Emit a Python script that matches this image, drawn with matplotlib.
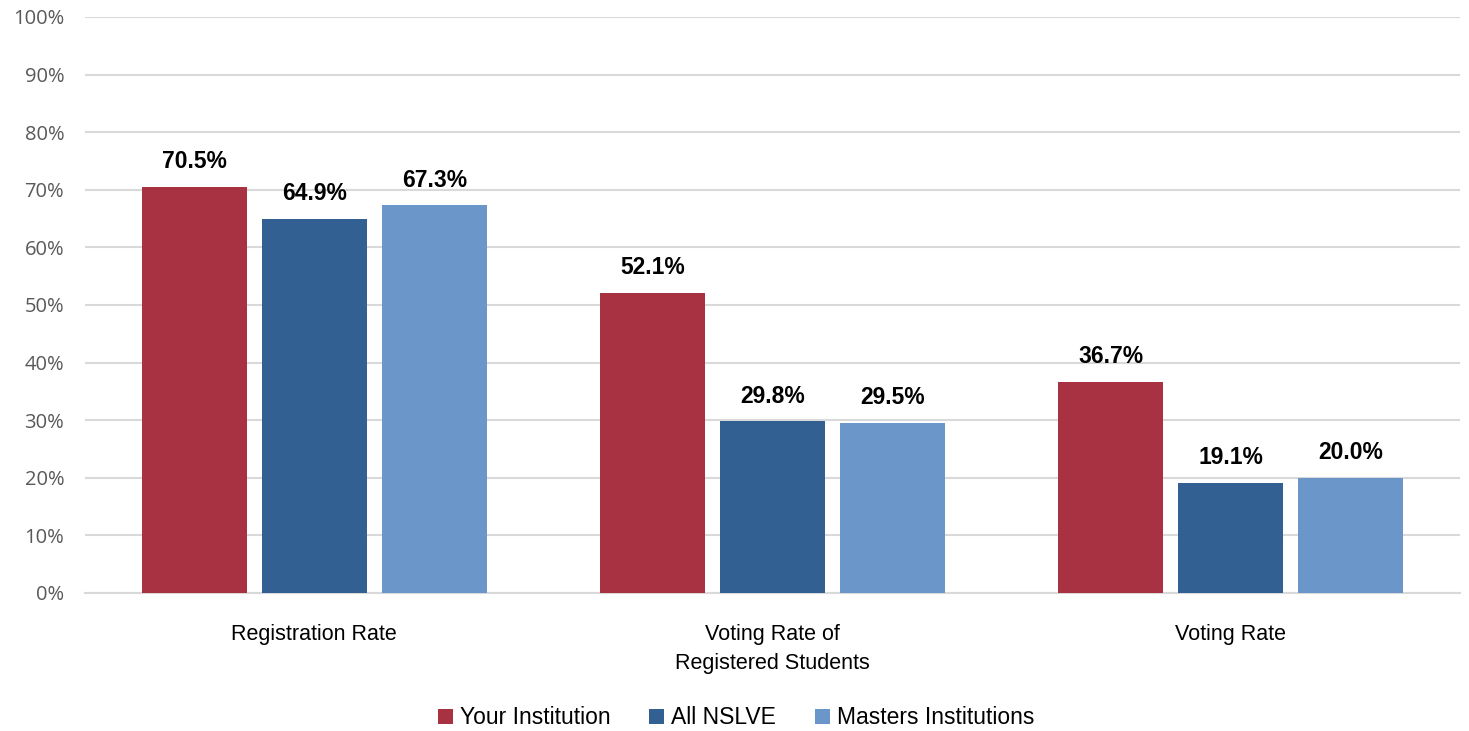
import matplotlib
matplotlib.use("Agg")
import matplotlib.pyplot as plt
import numpy as np
from matplotlib.patches import Patch

categories = ["Registration Rate", "Voting Rate of\nRegistered Students", "Voting Rate"]
series_names = ["Your Institution", "All NSLVE", "Masters Institutions"]
your_inst = [70.5, 52.1, 36.7]
all_nslve = [64.9, 29.8, 19.1]
masters = [67.3, 29.5, 20.0]
colors = ["#A83242", "#336092", "#6A96CA"]

narrow = ["Liberation Sans", "DejaVu Sans"]
tickfont = ["Open Sans", "DejaVu Sans"]

fig = plt.figure(figsize=(14.69, 7.31), dpi=100)
ax = fig.add_axes([85/1469, 138/731, 1375/1469, 576/731])

x = np.arange(len(categories))
width = 0.229
offset = 0.262
data = [your_inst, all_nslve, masters]
for i, (vals, c) in enumerate(zip(data, colors)):
    pos = x + (i - 1) * offset
    bars = ax.bar(pos, vals, width=width, color=c, zorder=3)
    for b, v in zip(bars, vals):
        ax.text(b.get_x() + b.get_width()/2, v + 2.4, f"{v:.1f}%",
                ha="center", va="bottom", fontsize=16.5, fontweight="bold",
                family=narrow, color="black")

ax.set_xlim(-0.5, 2.5)
ax.set_ylim(0, 100)
ax.set_yticks(np.arange(0, 101, 10))
ax.set_yticklabels([f"{t}%" for t in range(0, 101, 10)], family=tickfont,
                   fontsize=14.5, color="#595959")
ax.yaxis.grid(True, color="#D9D9D9", linewidth=1.5, zorder=0)
ax.set_axisbelow(True)
for s in ["top", "right", "left"]:
    ax.spines[s].set_visible(False)
ax.spines["bottom"].set_color("#D9D9D9")
ax.spines["bottom"].set_linewidth(1.5)
ax.tick_params(axis="both", length=0)
ax.tick_params(axis="y", pad=15)
ax.set_xticks(x)
ax.set_xticklabels(categories, family=narrow, fontsize=15.5, color="black",
                   linespacing=1.55)
ax.tick_params(axis="x", pad=22)

handles = [Patch(facecolor=c, edgecolor="none") for c in colors]
fig.legend(handles, series_names, loc="center", bbox_to_anchor=(736/1469, 1 - 718/731),
           ncol=3, frameon=False, prop={"family": narrow, "size": 16.5},
           handlelength=0.65, handleheight=0.65, handletextpad=0.3, columnspacing=1.7)

fig.savefig("out.png", dpi=100)
